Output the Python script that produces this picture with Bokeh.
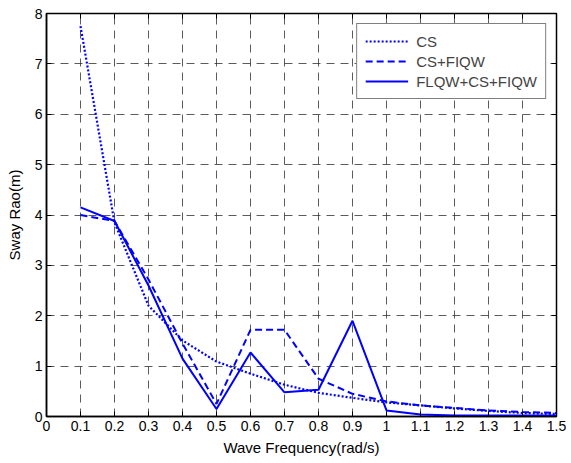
from bokeh.plotting import figure
from bokeh.models import FixedTicker, LinearAxis, Legend, LegendItem, Range1d
from bokeh.embed import file_html
from bokeh.resources import INLINE

freq = [0.1, 0.2, 0.3, 0.4, 0.5, 0.6, 0.7, 0.8, 0.9, 1.0, 1.1, 1.2, 1.3, 1.4, 1.5]
cs = [7.75, 3.85, 2.2, 1.51, 1.09, 0.85, 0.63, 0.47, 0.37, 0.28, 0.22, 0.16, 0.11, 0.07, 0.05]
cs_fiqw = [4.0, 3.88, 2.72, 1.45, 0.25, 1.72, 1.72, 0.75, 0.45, 0.3, 0.22, 0.17, 0.12, 0.09, 0.07]
flqw_cs_fiqw = [4.15, 3.88, 2.6, 1.15, 0.15, 1.27, 0.48, 0.53, 1.9, 0.12, 0.04, 0.02, 0.02, 0.02, 0.02]

x_ticks = [0, 0.1, 0.2, 0.3, 0.4, 0.5, 0.6, 0.7, 0.8, 0.9, 1.0, 1.1, 1.2, 1.3, 1.4, 1.5]
x_labels = ["0", "0.1", "0.2", "0.3", "0.4", "0.5", "0.6", "0.7", "0.8", "0.9", "1", "1.1", "1.2", "1.3", "1.4", "1.5"]
y_ticks = [0, 1, 2, 3, 4, 5, 6, 7, 8]

FONT = "Liberation Sans"
BLUE = "#0000ff"

p = figure(width=571, height=463, output_backend="svg", toolbar_location=None,
           x_range=Range1d(0, 1.5), y_range=Range1d(0, 8),
           min_border_left=46, min_border_right=15, min_border_top=13, min_border_bottom=47)
p.background_fill_color = "white"
p.border_fill_color = "white"
p.outline_line_color = "black"
p.outline_line_width = 1.5

overrides = {t: l for t, l in zip(x_ticks, x_labels)}

for ax in p.xaxis:
    ax.ticker = FixedTicker(ticks=x_ticks)
    ax.major_label_overrides = overrides
    ax.axis_label = "Wave Frequency(rad/s)"
    ax.axis_label_standoff = 5
for ax in p.yaxis:
    ax.ticker = FixedTicker(ticks=y_ticks)
    ax.axis_label = "Sway Rao(m)"
    ax.axis_label_standoff = 9

for ax in list(p.xaxis) + list(p.yaxis):
    ax.major_tick_in = 5
    ax.major_tick_out = 0
    ax.minor_tick_line_color = None
    ax.axis_line_color = "black"
    ax.axis_line_width = 1.5
    ax.major_label_text_font = FONT
    ax.major_label_text_font_size = "14px"
    ax.major_label_text_color = "black"
    ax.axis_label_text_font = FONT
    ax.axis_label_text_font_size = "15px"
    ax.axis_label_text_font_style = "normal"
    ax.axis_label_text_color = "black"
    ax.major_label_standoff = 4

top = LinearAxis(ticker=FixedTicker(ticks=x_ticks),
                 major_label_overrides={t: "" for t in x_ticks},
                 major_tick_in=5, major_tick_out=0, minor_tick_line_color=None,
                 axis_line_color="black", major_label_standoff=0)
right = LinearAxis(ticker=FixedTicker(ticks=y_ticks),
                   major_label_overrides={t: "" for t in y_ticks},
                   major_tick_in=5, major_tick_out=0, minor_tick_line_color=None,
                   axis_line_color="black", major_label_standoff=0)
p.add_layout(top, "above")
p.add_layout(right, "right")

for g in [p.xgrid[0], p.ygrid[0]]:
    g.grid_line_color = "#333333"
    g.grid_line_dash = "8 6"
    g.grid_line_width = 1
    g.grid_line_alpha = 0.8
p.xgrid[0].ticker = FixedTicker(ticks=x_ticks)
p.ygrid[0].ticker = FixedTicker(ticks=y_ticks)

r1 = p.line(freq, cs, line_color=BLUE, line_width=2.2, line_dash="2 2")
r2 = p.line(freq, cs_fiqw, line_color=BLUE, line_width=2, line_dash="7 4")
r3 = p.line(freq, flqw_cs_fiqw, line_color=BLUE, line_width=2)

legend = Legend(items=[LegendItem(label="CS", renderers=[r1]),
                       LegendItem(label="CS+FIQW", renderers=[r2]),
                       LegendItem(label="FLQW+CS+FIQW", renderers=[r3])],
                location="top_right")
legend.label_text_font = FONT
legend.label_text_font_size = "15px"
legend.border_line_color = "black"
legend.border_line_width = 1
legend.glyph_width = 43
legend.glyph_height = 18
legend.spacing = 2
legend.padding = 8
legend.margin = 10
legend.label_standoff = 8
legend.background_fill_alpha = 1
p.add_layout(legend)

open("out.html", "w").write(file_html(p, INLINE))
